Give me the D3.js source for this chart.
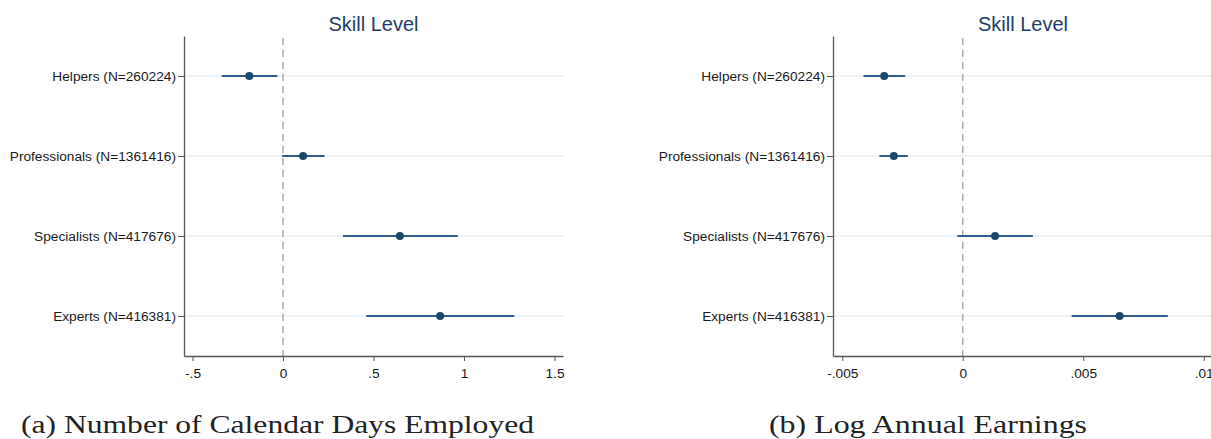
<!DOCTYPE html>
<html>
<head>
<meta charset="utf-8">
<script src="https://cdn.jsdelivr.net/npm/d3@7"></script>
<style>
  body { margin: 0; background: #fff; }
  svg { display: block; }
</style>
</head>
<body>
<svg width="1211" height="439"></svg>
<script>
// categories (top to bottom)
const groups = [
  "Helpers (N=260224)",
  "Professionals (N=1361416)",
  "Specialists (N=417676)",
  "Experts (N=416381)"
];

// (a) Number of Calendar Days Employed
const daysEst = [-0.186, 0.111, 0.646, 0.868];
const daysLo = [-0.339, -0.005, 0.331, 0.46];
const daysHi = [-0.031, 0.229, 0.965, 1.278];
const daysTicks = [-0.5, 0, 0.5, 1, 1.5];
const daysTickLabels = ["-.5", "0", ".5", "1", "1.5"];

// (b) Log Annual Earnings
const earnEst = [-0.00326, -0.00286, 0.00134, 0.00651];
const earnLo = [-0.00412, -0.00346, -0.00022, 0.00452];
const earnHi = [-0.00239, -0.00228, 0.00291, 0.00851];
const earnTicks = [-0.005, 0, 0.005, 0.01];
const earnTickLabels = ["-.005", "0", ".005", ".01"];

const panelTitle = "Skill Level";

const svg = d3.select("svg");
const sans = "'Liberation Sans', Arial, sans-serif";

const panels = [
  {
    est: daysEst, lo: daysLo, hi: daysHi,
    ticks: daysTicks, labels: daysTickLabels,
    domain: [-0.547, 1.547], left: 184, width: 379,
    caption: "(a) Number of Calendar Days Employed", capX: 21, capW: 513
  },
  {
    est: earnEst, lo: earnLo, hi: earnHi,
    ticks: earnTicks, labels: earnTickLabels,
    domain: [-0.005385, 0.010385], left: 833, width: 380,
    caption: "(b) Log Annual Earnings", capX: 769, capW: 318
  }
];

const plotTop = 36, plotBottom = 356;

panels.forEach((p) => {
  const g = svg.append("g");

  const x = d3.scaleLinear()
    .domain(p.domain)
    .range([p.left, p.left + p.width]);

  const y = d3.scaleLinear()
    .domain([0.5, 4.5])
    .range([plotTop, plotBottom]);

  const rows = groups.map((name, i) => ({
    name: name, pos: i + 1, est: p.est[i], lo: p.lo[i], hi: p.hi[i]
  }));

  // gridlines
  g.selectAll("line.grid")
    .data(rows)
    .enter()
    .append("line")
    .attr("class", "grid")
    .attr("x1", p.left + 1)
    .attr("x2", p.left + p.width)
    .attr("y1", (d) => y(d.pos))
    .attr("y2", (d) => y(d.pos))
    .attr("stroke", "#e3eef2")
    .attr("stroke-width", 1.5);

  // zero reference line
  g.append("line")
    .attr("x1", x(0))
    .attr("x2", x(0))
    .attr("y1", plotTop + 2)
    .attr("y2", plotBottom)
    .attr("stroke", "#9c9c9c")
    .attr("stroke-width", 1.3)
    .attr("stroke-dasharray", "7,5");

  // AXES
  const xAxis = d3.axisBottom(x)
    .tickValues(p.ticks)
    .tickFormat((d, i) => p.labels[i])
    .tickSize(5)
    .tickSizeOuter(0)
    .tickPadding(7);

  const xa = g.append("g")
    .attr("transform", "translate(0," + plotBottom + ")")
    .call(xAxis);

  const yAxis = d3.axisLeft(y)
    .tickValues([1, 2, 3, 4])
    .tickFormat((d) => groups[d - 1])
    .tickSize(6)
    .tickSizeOuter(0)
    .tickPadding(2);

  const ya = g.append("g")
    .attr("transform", "translate(" + p.left + ",0)")
    .call(yAxis);

  [xa, ya].forEach((a) => {
    a.select(".domain").attr("stroke", "#555").attr("stroke-width", 1.3);
    a.selectAll(".tick line").attr("stroke", "#555").attr("stroke-width", 1);
    a.selectAll(".tick text")
      .attr("fill", "#1a1a1a")
      .style("font-family", sans)
      .style("font-size", "13.7px");
  });

  // confidence intervals
  g.selectAll("line.ci")
    .data(rows)
    .enter()
    .append("line")
    .attr("class", "ci")
    .attr("x1", (d) => x(d.lo))
    .attr("x2", (d) => x(d.hi))
    .attr("y1", (d) => y(d.pos))
    .attr("y2", (d) => y(d.pos))
    .attr("stroke", "#2f5d88")
    .attr("stroke-width", 2);

  // point estimates
  g.selectAll("circle")
    .data(rows)
    .enter()
    .append("circle")
    .attr("cx", (d) => x(d.est))
    .attr("cy", (d) => y(d.pos))
    .attr("r", 4)
    .attr("fill", "#1a476f");

  // TITLE
  g.append("text")
    .text(panelTitle)
    .attr("x", p.left + p.width / 2)
    .attr("y", 31)
    .attr("text-anchor", "middle")
    .attr("fill", "#1c3d6c")
    .style("font-family", sans)
    .style("font-size", "20px");

  // caption
  g.append("text")
    .text(p.caption)
    .attr("x", p.capX)
    .attr("y", 433)
    .attr("textLength", p.capW)
    .attr("lengthAdjust", "spacingAndGlyphs")
    .attr("fill", "#222")
    .style("font-family", "'Liberation Serif', 'DejaVu Serif', serif")
    .style("font-size", "26px");
});
</script>
</body>
</html>
